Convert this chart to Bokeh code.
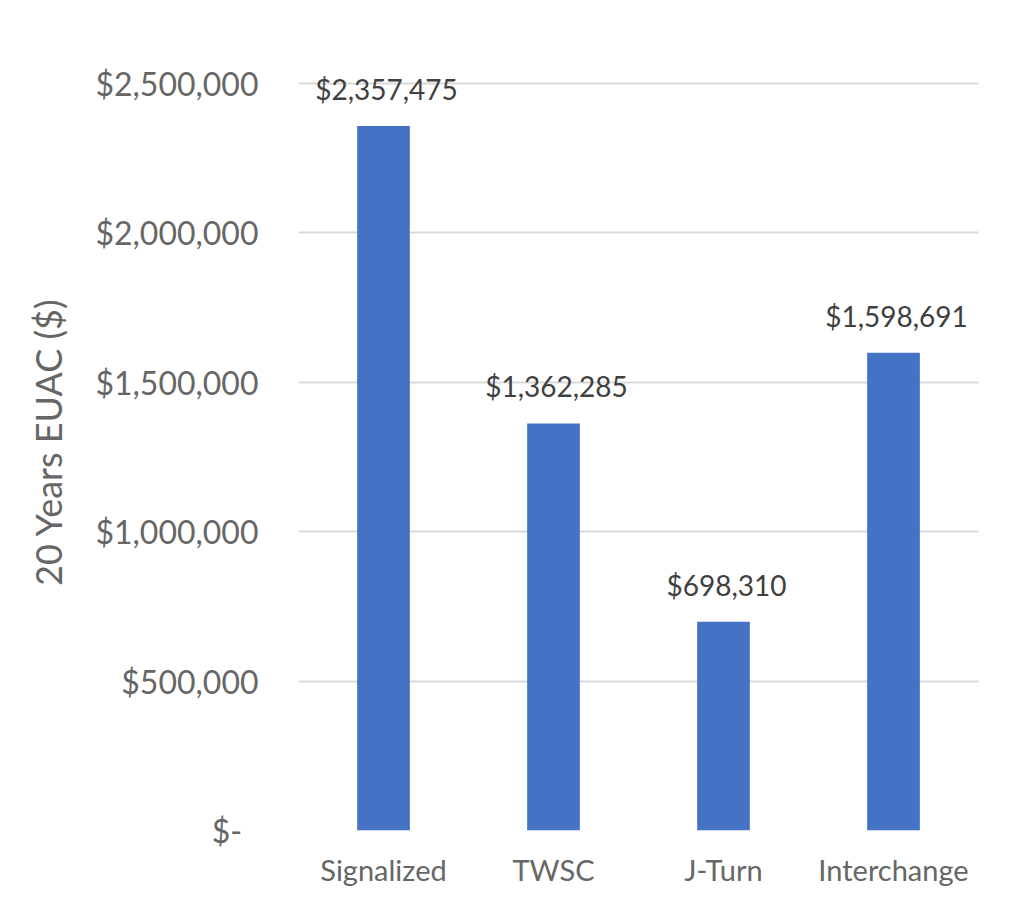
from bokeh.plotting import figure
from bokeh.models import FixedTicker, FactorRange, Range1d
from bokeh.core.properties import value
from bokeh.embed import file_html
from bokeh.resources import INLINE

categories = ["Signalized", "TWSC", "J-Turn", "Interchange"]
euac = [2357475, 1362285, 698310, 1598691]
bar_labels = ["$2,357,475", "$1,362,285", "$698,310", "$1,598,691"]
y_ticks = [0, 500000, 1000000, 1500000, 2000000, 2500000]
y_tick_labels = ["$-", "$500,000", "$1,000,000", "$1,500,000", "$2,000,000", "$2,500,000"]

FONT = "Lato"
TICK_COLOR = "#666666"

p = figure(
    width=1010, height=895,
    x_range=FactorRange(*categories, range_padding=0),
    y_range=Range1d(0, 2600000),
    output_backend="svg", toolbar_location=None,
    min_border_left=298, min_border_right=32,
    min_border_top=53, min_border_bottom=65,
)
p.styles = {"outline": "2px solid #e4e4e4", "outline-offset": "-6px"}
p.outline_line_color = None
p.background_fill_color = "white"
p.border_fill_color = "white"

p.vbar(x=categories, top=euac, width=0.31, fill_color="#4472C4", line_color=None)

p.text(x=categories, y=euac, text=bar_labels, text_align="center",
       text_baseline="bottom", x_offset=3, y_offset=-20,
       text_font=value(FONT), text_font_size="28px", text_color="#404040")

# grid
p.xgrid.grid_line_color = None
p.ygrid.grid_line_color = "#d9d9d9"
p.ygrid.grid_line_width = 2

# y axis
p.yaxis.ticker = FixedTicker(ticks=y_ticks)
overrides = {}
for t, lab in zip(y_ticks, y_tick_labels):
    overrides[t] = lab + ("\u00a0\u00a0" if t == 0 else "")
p.yaxis.major_label_overrides = overrides
p.yaxis.axis_label = "20 Years EUAC ($)"
p.yaxis.axis_label_text_font = FONT
p.yaxis.axis_label_text_font_size = "36px"
p.yaxis.axis_label_text_font_style = "normal"
p.yaxis.axis_label_text_color = TICK_COLOR
p.yaxis.axis_label_standoff = 22
p.yaxis.major_label_standoff = 34
p.yaxis.minor_tick_line_color = None

for ax in (p.xaxis[0], p.yaxis[0]):
    ax.axis_line_color = None
    ax.major_tick_line_color = None
    ax.minor_tick_line_color = None
    ax.major_label_text_font = FONT
    ax.major_label_text_color = TICK_COLOR

p.yaxis.major_label_text_font_size = "32px"
p.xaxis.major_label_text_font_size = "29px"
p.xaxis.major_label_standoff = 15

open("out.html", "w").write(file_html(p, INLINE))
